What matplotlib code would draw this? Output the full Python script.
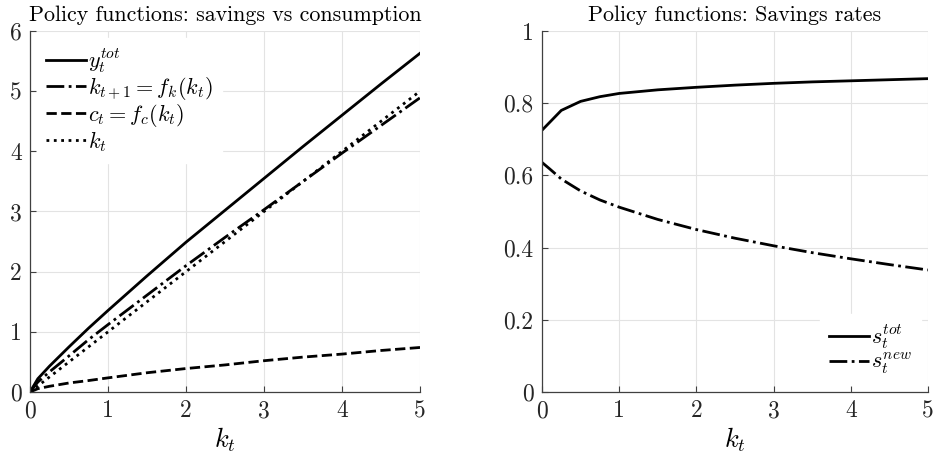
import matplotlib
matplotlib.use("Agg")
import matplotlib.pyplot as plt
from matplotlib.ticker import FuncFormatter

plt.rcParams['font.family'] = ['cmr10', 'DejaVu Serif']
plt.rcParams['mathtext.fontset'] = 'cm'
plt.rcParams['axes.unicode_minus'] = False
plt.rcParams['axes.formatter.use_mathtext'] = True

# capital grid
k = [0, 0.1, 0.25, 0.5, 0.75, 1, 1.5, 2, 2.5, 3, 3.5, 4, 4.5, 5]

# left panel: policy functions
y_tot = [0, 0.22, 0.43, 0.75, 1.06, 1.355, 1.93, 2.49, 3.02, 3.55, 4.08, 4.6, 5.12, 5.63]
k_next = [0, 0.165, 0.335, 0.6, 0.87, 1.12, 1.61, 2.10, 2.57, 3.03, 3.50, 3.97, 4.43, 4.89]
c_t = [0, 0.055, 0.095, 0.15, 0.19, 0.235, 0.32, 0.39, 0.45, 0.52, 0.58, 0.63, 0.69, 0.74]

# right panel: savings rates
s_tot = [0.725, 0.747, 0.78, 0.805, 0.818, 0.827, 0.837, 0.844, 0.85, 0.855, 0.859, 0.862, 0.865, 0.868]
s_new = [0.636, 0.618, 0.59, 0.557, 0.532, 0.512, 0.478, 0.45, 0.426, 0.405, 0.386, 0.369, 0.353, 0.338]

lw = 2.0
axcol = '#404040'
fig = plt.figure(figsize=(9.38, 4.66), dpi=100)
ax1 = fig.add_axes([0.032, 0.1588, 0.4158, 0.7747])
ax2 = fig.add_axes([0.5778, 0.1588, 0.4115, 0.7747])


def style(ax):
    ax.grid(True, color='#e3e3e3', linewidth=0.8)
    ax.set_axisbelow(True)
    for s in ['top', 'right']:
        ax.spines[s].set_visible(False)
    for s in ['left', 'bottom']:
        ax.spines[s].set_color(axcol)
        ax.spines[s].set_linewidth(0.9)
    ax.tick_params(direction='in', length=4, width=0.8, color=axcol,
                   labelsize=17, labelcolor='#262626', pad=6)
    ax.xaxis.set_major_formatter(FuncFormatter(lambda v, p: '%g' % v))
    ax.yaxis.set_major_formatter(FuncFormatter(lambda v, p: '%g' % v))
    ax.set_xlim(0, 5)
    ax.set_xticks([0, 1, 2, 3, 4, 5])
    ax.set_xlabel(r'$k_t$', fontsize=19, labelpad=2)


legkw = dict(fontsize=16, frameon=True, fancybox=False, edgecolor='white',
             facecolor='white', framealpha=1, handlelength=1.8,
             handletextpad=0.1, labelspacing=0.0)

ax1.plot(k, y_tot, '-', color='k', lw=lw, label=r'$y_t^{tot}$')
ax1.plot(k, k_next, '-.', color='k', lw=lw, label=r'$k_{t+1} = f_k(k_t)$')
ax1.plot(k, c_t, '--', color='k', lw=lw, label=r'$c_t = f_c(k_t)$')
ax1.plot(k, k, ':', color='k', lw=lw, label=r'$k_t$')
style(ax1)
ax1.set_ylim(0, 6)
ax1.set_yticks(range(7))
ax1.set_title('Policy functions: savings vs consumption', fontsize=15.8, pad=7)
ax1.legend(loc='upper left', borderaxespad=0.3, **legkw)

ax2.plot(k, s_tot, '-', color='k', lw=lw, label=r'$s_t^{tot}$')
ax2.plot(k, s_new, '-.', color='k', lw=lw, label=r'$s_t^{new}$')
style(ax2)
ax2.set_ylim(0, 1)
ax2.set_yticks([0, 0.2, 0.4, 0.6, 0.8, 1])
ax2.set_title('Policy functions: Savings rates', fontsize=15.8, pad=7)
ax2.legend(loc='lower right', borderaxespad=0.3, **legkw)

fig.savefig('out.png', dpi=100)
